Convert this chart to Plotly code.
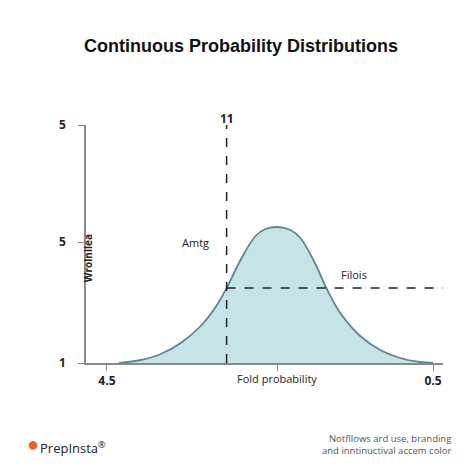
import plotly.graph_objects as go

# curve points (abstract units: x along axis, y height)
curve_x = [33, 55, 75, 95, 115, 130, 141, 155, 170, 180, 192, 205, 215, 230, 241, 255, 275, 295, 315, 335, 348]
curve_y = [0, 3, 9, 20, 37, 56, 75, 103, 127, 134, 136, 133, 125, 99, 75, 50, 27, 13, 5, 1, 0]
x_tick_vals = [21, 192, 348]
x_tick_text = ["4.5", "", "0.5"]
y_tick_vals = [0, 121, 238]
y_tick_text = ["1", "5", "5"]
vline_x = 141
hline_y = 75

fig = go.Figure()
fig.add_trace(go.Scatter(x=curve_x, y=curve_y, mode="lines", line=dict(color="#5f8595", width=1.8, shape="spline"),
                         fill="tozeroy", fillcolor="#c6e3e8", hoverinfo="skip"))
fig.add_trace(go.Scatter(x=[vline_x, vline_x], y=[0, 243], mode="lines", line=dict(color="#222", width=1.5, dash="dash"), cliponaxis=False))
fig.add_trace(go.Scatter(x=[vline_x, 363], y=[hline_y, hline_y], mode="lines", line=dict(color="#222", width=1.5, dash="dash"), cliponaxis=False))

fig.update_layout(
    width=466, height=466, showlegend=False,
    paper_bgcolor="white", plot_bgcolor="white",
    margin=dict(l=78, r=31, t=117, b=111),
    font=dict(family="Open Sans, sans-serif", color="#222"),
    title=dict(text="<b>Continuous Probability Distributions</b>", x=0.5, xanchor="center", y=0.92, yanchor="middle",
               font=dict(size=18, color="#111", family="Liberation Sans, Arial, sans-serif")),
    xaxis=dict(range=[0, 358], showgrid=False, zeroline=False, showline=True, linecolor="#888", linewidth=1.5,
               tickvals=x_tick_vals, ticktext=[f"<b>{t}</b>" for t in x_tick_text], ticks="outside", ticklen=6, tickcolor="#888",
               tickfont=dict(size=12, color="#222")),
    yaxis=dict(range=[0, 238], showgrid=False, zeroline=False, showline=True, linecolor="#888", linewidth=1.5,
               tickvals=y_tick_vals, ticktext=[f"<b>{t}</b>" for t in y_tick_text], ticks="outside", ticklen=6, tickcolor="#888",
               ticklabelstandoff=10, tickfont=dict(size=12, color="#222")),
    annotations=[
        dict(text="<b>11</b>", x=vline_x, y=1.071, xref="x", yref="paper", showarrow=False, font=dict(size=12)),
        dict(text="Amtg", x=110, y=121, xref="x", yref="y", showarrow=False, font=dict(size=11)),
        dict(text="Filois", x=269, y=89, xref="x", yref="y", showarrow=False, font=dict(size=11)),
        dict(text="<b>Wrolnilea</b>", x=-0.02, y=0.44, xref="paper", yref="paper", showarrow=False, textangle=-90, font=dict(size=10)),
        dict(text="Fold probability", x=192, y=-0.105, xref="x", yref="paper", showarrow=False, font=dict(size=11)),
    ],
)
# footer
fig.add_annotation(text="●", x=-0.17, y=-0.403, xref="paper", yref="paper",
                   showarrow=False, font=dict(size=20, color="#e8622c"))
fig.add_annotation(text="PrepInsta<sup>®</sup>", x=-0.135, y=-0.403, xref="paper", yref="paper", xanchor="left",
                   showarrow=False, font=dict(size=13, color="#222"))
fig.add_annotation(text="Notfllows ard use, branding<br>and inntinuctival accem color", x=1.028, y=-0.403, xref="paper", yref="paper",
                   xanchor="right", align="right", showarrow=False, font=dict(size=9.5, color="#555"))
fig.write_html("out.html")
